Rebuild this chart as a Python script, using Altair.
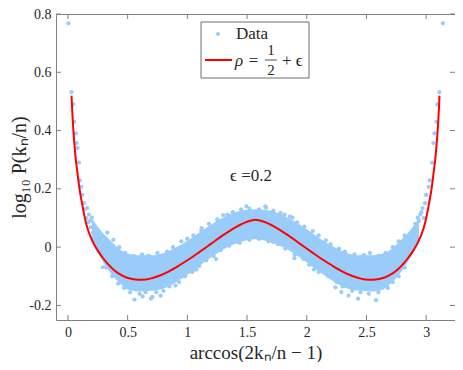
import altair as alt
import pandas as pd

# ---------------- data ----------------
curve_x = [0.030, 0.035, 0.045, 0.055, 0.066, 0.079, 0.095, 0.120, 0.140, 0.161,
           0.190, 0.216, 0.250, 0.284, 0.330, 0.380, 0.430, 0.490, 0.550, 0.625,
           0.690, 0.760, 0.850, 0.930, 1.000, 1.100, 1.200, 1.300, 1.400, 1.500,
           1.571, 1.642, 1.742, 1.842, 1.942, 2.042, 2.142, 2.212, 2.292, 2.382,
           2.452, 2.517, 2.592, 2.652, 2.712, 2.762, 2.812, 2.858, 2.892, 2.926,
           2.952, 2.981, 3.002, 3.022, 3.047, 3.063, 3.076, 3.087, 3.097, 3.107, 3.112]
curve_y = [0.520, 0.475, 0.405, 0.350, 0.300, 0.257, 0.205, 0.146, 0.103, 0.068,
           0.035, 0.012, -0.012, -0.032, -0.056, -0.077, -0.092, -0.104, -0.110, -0.112,
           -0.108, -0.099, -0.082, -0.063, -0.045, -0.017, 0.012, 0.041, 0.067, 0.087,
           0.094, 0.087, 0.067, 0.041, 0.012, -0.017, -0.045, -0.063, -0.082, -0.099,
           -0.108, -0.112, -0.110, -0.104, -0.092, -0.077, -0.056, -0.032, -0.012, 0.012,
           0.035, 0.068, 0.103, 0.146, 0.205, 0.257, 0.300, 0.350, 0.405, 0.475, 0.520]

# dense core of the data cloud
band_x = [0.20, 0.25, 0.30, 0.35, 0.40, 0.45, 0.50, 0.60, 0.70, 0.80, 0.90, 1.00,
          1.10, 1.20, 1.30, 1.40, 1.50, 1.571, 1.64, 1.74, 1.84, 1.94, 2.04, 2.14,
          2.24, 2.34, 2.44, 2.54, 2.64, 2.69, 2.74, 2.79, 2.84, 2.89, 2.94]
band_lo = [0.015, -0.020, -0.055, -0.085, -0.110, -0.130, -0.145, -0.152, -0.150, -0.142,
           -0.122, -0.095, -0.065, -0.035, -0.008, 0.012, 0.024, 0.027, 0.024, 0.012,
           -0.008, -0.035, -0.065, -0.095, -0.122, -0.142, -0.150, -0.152, -0.145,
           -0.130, -0.110, -0.085, -0.055, -0.020, 0.015]
band_hi = [0.100, 0.070, 0.045, 0.025, 0.005, -0.012, -0.022, -0.028, -0.028, -0.020,
           -0.002, 0.022, 0.050, 0.078, 0.102, 0.120, 0.128, 0.130, 0.128, 0.120,
           0.102, 0.078, 0.050, 0.022, -0.002, -0.020, -0.028, -0.028, -0.022,
           -0.012, 0.005, 0.025, 0.045, 0.070, 0.100]

# individual data points (ends, edges and outliers of the cloud)
pts_x = [0.005, 0.030, 0.044, 0.052, 0.066, 0.074, 0.080, 0.093, 0.100, 0.112, 0.120, 0.134,
         0.140, 0.155, 0.161, 0.170, 0.175, 0.185, 0.190, 0.200, 0.210, 0.216, 0.230, 0.243,
         0.260, 0.270, 0.284, 0.310,
         3.140, 3.110, 3.093, 3.085, 3.070, 3.060, 3.050, 3.030, 3.020, 3.000, 2.990, 2.980,
         2.970, 2.960, 2.950, 2.940, 2.930, 2.920, 2.910, 2.900, 2.890, 2.880, 2.870, 2.850, 2.810,
         0.33, 0.38, 0.43, 0.48, 0.55, 0.62, 0.68, 0.75, 0.83, 0.88, 0.95, 1.05, 1.12, 1.18,
         1.25, 1.30, 1.38, 1.45, 1.52, 1.60, 1.66, 1.72, 1.78, 1.86, 1.92, 1.98, 2.05, 2.10,
         2.20, 2.27, 2.32, 2.40, 2.47, 2.53, 2.60, 2.66, 2.72, 2.77, 2.82,
         0.32, 0.37, 0.42, 0.47, 0.52, 0.60, 0.65, 0.74, 0.80, 0.85, 0.93, 0.98, 1.04, 1.10,
         1.16, 1.22, 1.28, 1.35, 1.44, 1.52, 1.60, 1.68, 1.76, 1.82, 1.90, 1.97, 2.02, 2.10,
         2.18, 2.25, 2.30, 2.38, 2.45, 2.52, 2.60, 2.68, 2.72, 2.77, 2.82,
         0.557, 0.625, 0.707, 0.776, 0.694, 0.293, 0.666, 0.460, 0.900, 1.060, 1.000,
         1.494, 1.653, 1.076, 1.240, 1.418, 1.719, 1.117, 1.336, 1.814, 1.896,
         2.060, 2.240, 2.290, 2.430, 2.580, 2.480, 2.620, 1.880, 2.160, 2.350, 0.390, 0.450, 0.530]
pts_y = [0.768, 0.532, 0.490, 0.430, 0.390, 0.357, 0.340, 0.290, 0.229, 0.207, 0.179, 0.151,
         0.130, 0.100, 0.134, 0.085, 0.112, 0.090, 0.068, 0.101, 0.050, 0.068, 0.030, 0.040,
         0.020, -0.010, 0.023, 0.012,
         0.768, 0.532, 0.490, 0.430, 0.390, 0.357, 0.290, 0.229, 0.207, 0.179, 0.151, 0.100,
         0.134, 0.120, 0.112, 0.090, 0.101, 0.068, 0.080, 0.040, 0.057, 0.000, 0.030, 0.023, 0.012,
         0.050, 0.025, 0.000, -0.020, -0.030, -0.025, -0.030, -0.020, -0.015, 0.000, 0.020, 0.040,
         0.065, 0.080, 0.095, 0.110, 0.120, 0.130, 0.132, 0.130, 0.135, 0.125, 0.118, 0.105,
         0.085, 0.070, 0.055, 0.040, 0.010, -0.005, -0.015, -0.025, -0.030, -0.020, -0.030,
         -0.020, 0.000, 0.020, 0.040,
         -0.070, -0.100, -0.125, -0.140, -0.155, -0.160, -0.155, -0.155, -0.150, -0.135, -0.120,
         -0.100, -0.085, -0.065, -0.045, -0.030, -0.010, 0.005, 0.015, 0.025, 0.028, 0.020,
         0.010, -0.005, -0.025, -0.040, -0.060, -0.085, -0.100, -0.120, -0.135, -0.150, -0.155,
         -0.160, -0.155, -0.140, -0.120, -0.100, -0.070,
         -0.180, -0.169, -0.171, -0.166, -0.177, -0.069, -0.032, -0.038, -0.132, -0.077, 0.029,
         0.140, 0.140, -0.077, -0.041, 0.018, 0.018, 0.057, 0.112, 0.112, -0.038,
         -0.077, -0.138, -0.154, -0.177, -0.182, -0.027, -0.038, 0.101, 0.023, -0.166,
         -0.032, -0.032, -0.037]

x_ticks = [0, 0.5, 1, 1.5, 2, 2.5, 3]
y_ticks = [-0.2, 0, 0.2, 0.4, 0.6, 0.8]

x_title = "arccos(2kₙ/n − 1)"
y_title = "log₁₀ P(kₙ/n)"
legend_data_label = "Data"
annotation = "ϵ =0.2"

# ---------------- styling ----------------
BLUE = "#99CCF8"
RED = "#FF0000"
GRAY = "#808080"
TXT = "#262626"
FONT = "Liberation Serif"
W, H = 399, 306

xs = alt.Scale(domain=[-0.1, 3.2416], nice=False, zero=False)
ys = alt.Scale(domain=[-0.25, 0.8], nice=False, zero=False)

band_df = pd.DataFrame({"x": band_x, "lo": band_lo, "hi": band_hi})
pts_df = pd.DataFrame({"x": pts_x, "y": pts_y})
curve_df = pd.DataFrame({"x": curve_x, "y": curve_y})
one = pd.DataFrame({"a": [0]})

x_axis = alt.Axis(values=x_ticks, labelExpr="'' + datum.value", title=x_title,
                  ticks=False, domain=False, grid=False, labelPadding=5,
                  titleY=42, titleBaseline="bottom", titleFontSize=19)
y_axis = alt.Axis(values=y_ticks, labelExpr="'' + datum.value", title=y_title,
                  ticks=False, domain=False, grid=False, labelPadding=5,
                  titleX=-47, titleY=H / 2, titleAngle=270, titleAlign="center",
                  titleBaseline="top")

band = alt.Chart(band_df).mark_area(color=BLUE, opacity=1, interpolate="monotone").encode(
    x=alt.X("x:Q", scale=xs, axis=x_axis),
    y=alt.Y("lo:Q", scale=ys, axis=y_axis),
    y2="hi:Q",
)

points = alt.Chart(pts_df).mark_circle(color=BLUE, size=18, opacity=1).encode(
    x=alt.X("x:Q", scale=xs),
    y=alt.Y("y:Q", scale=ys),
)

curve = alt.Chart(curve_df).mark_line(color=RED, strokeWidth=2, interpolate="monotone").encode(
    x=alt.X("x:Q", scale=xs),
    y=alt.Y("y:Q", scale=ys),
)

note = alt.Chart(one).mark_text(text=annotation, font=FONT, fontSize=17, color=TXT,
                                align="center", baseline="middle").encode(
    x=alt.value(195), y=alt.value(162))

# inward ticks on all four sides
xt = pd.DataFrame({"t": x_ticks})
yt = pd.DataFrame({"t": y_ticks})
tick_b = alt.Chart(xt).mark_rule(color=GRAY).encode(
    x=alt.X("t:Q", scale=xs), y=alt.value(H), y2=alt.value(H - 5))
tick_t = alt.Chart(xt).mark_rule(color=GRAY).encode(
    x=alt.X("t:Q", scale=xs), y=alt.value(0), y2=alt.value(5))
tick_l = alt.Chart(yt).mark_rule(color=GRAY).encode(
    y=alt.Y("t:Q", scale=ys), x=alt.value(0), x2=alt.value(5))
tick_r = alt.Chart(yt).mark_rule(color=GRAY).encode(
    y=alt.Y("t:Q", scale=ys), x=alt.value(W), x2=alt.value(W - 5))

# legend box
leg_box = alt.Chart(one).mark_rect(fill="white", stroke="#6f6f6f", strokeWidth=1).encode(
    x=alt.value(145), x2=alt.value(253), y=alt.value(8), y2=alt.value(64))
leg_dot = alt.Chart(one).mark_circle(color=BLUE, size=18, opacity=1).encode(
    x=alt.value(162), y=alt.value(20))
leg_data = alt.Chart(one).mark_text(text=legend_data_label, font=FONT, fontSize=17, color=TXT,
                                    align="left", baseline="middle").encode(
    x=alt.value(180), y=alt.value(20))
leg_line = alt.Chart(one).mark_rule(color=RED, strokeWidth=2).encode(
    x=alt.value(149), x2=alt.value(176), y=alt.value(46))
leg_rho = alt.Chart(one).mark_text(text="ρ =", font=FONT, fontSize=17, color=TXT,
                                   fontStyle="italic", align="left", baseline="middle").encode(
    x=alt.value(179), y=alt.value(47))
leg_num = alt.Chart(one).mark_text(text="1", font=FONT, fontSize=15, color=TXT,
                                   align="center", baseline="middle").encode(
    x=alt.value(215), y=alt.value(36))
leg_bar = alt.Chart(one).mark_rule(color=TXT, strokeWidth=0.8).encode(
    x=alt.value(209), x2=alt.value(221), y=alt.value(46))
leg_den = alt.Chart(one).mark_text(text="2", font=FONT, fontSize=15, color=TXT,
                                   align="center", baseline="middle").encode(
    x=alt.value(215), y=alt.value(56))
leg_eps = alt.Chart(one).mark_text(text="+ ϵ", font=FONT, fontSize=17, color=TXT,
                                   align="left", baseline="middle").encode(
    x=alt.value(226), y=alt.value(47))

chart = alt.layer(
    band, points, curve, note, tick_b, tick_t, tick_l, tick_r,
    leg_box, leg_dot, leg_data, leg_line, leg_rho, leg_num, leg_bar, leg_den, leg_eps,
).properties(
    width=W, height=H,
    autosize=alt.AutoSizeParams(type="none"),
    padding={"left": 48, "top": 6, "right": 0, "bottom": 42},
).configure_view(
    stroke=GRAY, strokeWidth=1,
).configure_axis(
    labelFont=FONT, labelFontSize=14, labelColor=TXT,
    titleFont=FONT, titleFontSize=20, titleColor=TXT, titleFontWeight="normal",
)

chart.save("out.html", embed_options={"renderer": "svg", "actions": False})
